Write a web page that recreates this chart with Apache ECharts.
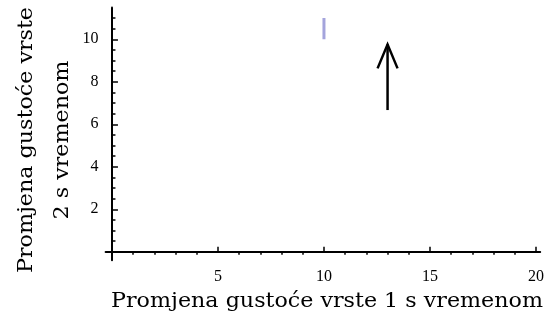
<!DOCTYPE html>
<html>
<head>
<meta charset="utf-8">
<script src="https://cdn.jsdelivr.net/npm/echarts@6/dist/echarts.min.js"></script>
<style>
  html, body { margin: 0; padding: 0; background: #fff; }
  #chart { width: 548px; height: 322px; }
</style>
</head>
<body>
<div id="chart"></div>
<script>
// Axis ranges and tick values
const xRange = [-0.3, 20.2];
const yRange = [-0.4, 11.5];
const xMajorTicks = [5, 10, 15, 20];
const xMinorTicks = [1, 2, 3, 4, 6, 7, 8, 9, 11, 12, 13, 14, 16, 17, 18, 19];
const yMajorTicks = [2, 4, 6, 8, 10];
const yMinorTicks = [0.5, 1, 1.5, 2.5, 3, 3.5, 4.5, 5, 5.5, 6.5, 7, 7.5, 8.5, 9, 9.5, 10.5, 11];

// Short vertical segment (species 1 value, species 2 from/to)
const segmentX = [10, 10];
const segmentY = [10, 11];

// Direction arrow: tail and tip
const arrowX = [13, 13];
const arrowY = [6.67, 9.76];

const xTitle = 'Promjena gustoće vrste 1 s vremenom';
const yTitleLines = ['Promjena gustoće vrste', '2 s vremenom'];

const serif = '"DejaVu Serif", serif';
const tickFont = '"Liberation Serif", serif';

const chart = echarts.init(document.getElementById('chart'), null, { renderer: 'canvas' });

function axisBase(extra) {
  return Object.assign({
    type: 'value',
    splitLine: { show: false },
    axisLine: { show: true, onZero: true, lineStyle: { color: '#000', width: 2 } }
  }, extra);
}

// Wide serif title text, stretched along its reading direction
function titleText(text, x, y, rotation) {
  return {
    type: 'text', x: x, y: y, rotation: rotation, scaleX: 1.11,
    style: { text: text, fill: '#000', font: '20px ' + serif, align: 'center', verticalAlign: 'middle' }
  };
}

const option = {
  animation: false,
  backgroundColor: '#fff',
  grid: { left: 105.6, right: 7.8, top: 7.4, bottom: 61.7, containLabel: false },
  xAxis: [
    axisBase({
      min: xRange[0], max: xRange[1],
      axisTick: { show: true, inside: true, length: 5, customValues: xMajorTicks, lineStyle: { color: '#000', width: 1.5 } },
      axisLabel: { show: true, customValues: xMajorTicks, margin: 8, color: '#000', fontFamily: tickFont, fontSize: 16 }
    }),
    axisBase({
      min: xRange[0], max: xRange[1],
      axisLine: { show: false, onZero: true },
      axisTick: { show: true, inside: true, length: 3, customValues: xMinorTicks, lineStyle: { color: '#000', width: 1.5 } },
      axisLabel: { show: false }
    })
  ],
  yAxis: [
    axisBase({
      min: yRange[0], max: yRange[1],
      axisTick: { show: true, inside: true, length: 6, customValues: yMajorTicks, lineStyle: { color: '#000', width: 1.5 } },
      axisLabel: { show: true, customValues: yMajorTicks, margin: 7, color: '#000', fontFamily: tickFont, fontSize: 16 }
    }),
    axisBase({
      min: yRange[0], max: yRange[1],
      position: 'left',
      axisLine: { show: false, onZero: true },
      axisTick: { show: true, inside: true, length: 3.5, customValues: yMinorTicks, lineStyle: { color: '#000', width: 1.5 } },
      axisLabel: { show: false }
    })
  ],
  graphic: [
    titleText(xTitle, 327, 302, 0),
    titleText(yTitleLines[0], 27, 140, Math.PI / 2),
    titleText(yTitleLines[1], 63, 140, Math.PI / 2)
  ],
  series: [
    {
      type: 'line',
      xAxisIndex: 0, yAxisIndex: 0,
      data: segmentX.map((x, i) => [x, segmentY[i]]),
      showSymbol: false,
      lineStyle: { color: '#a4a4dc', width: 3, cap: 'butt' },
      silent: true
    },
    {
      type: 'custom',
      xAxisIndex: 0, yAxisIndex: 0,
      data: [[arrowX[0], arrowY[0], arrowX[1], arrowY[1]]],
      renderItem: function (params, api) {
        const tail = api.coord([api.value(0), api.value(1)]);
        const tip = api.coord([api.value(2), api.value(3)]);
        const headW = 10, headL = 24;
        return {
          type: 'group',
          children: [
            { type: 'line', shape: { x1: tail[0], y1: tail[1], x2: tip[0], y2: tip[1] },
              style: { stroke: '#000', lineWidth: 2.5 } },
            { type: 'polyline', shape: { points: [[tip[0] - headW, tip[1] + headL], [tip[0], tip[1]], [tip[0] + headW, tip[1] + headL]] },
              style: { stroke: '#000', lineWidth: 2.5, fill: null } }
          ]
        };
      },
      silent: true
    }
  ]
};

chart.setOption(option);
</script>
</body>
</html>
